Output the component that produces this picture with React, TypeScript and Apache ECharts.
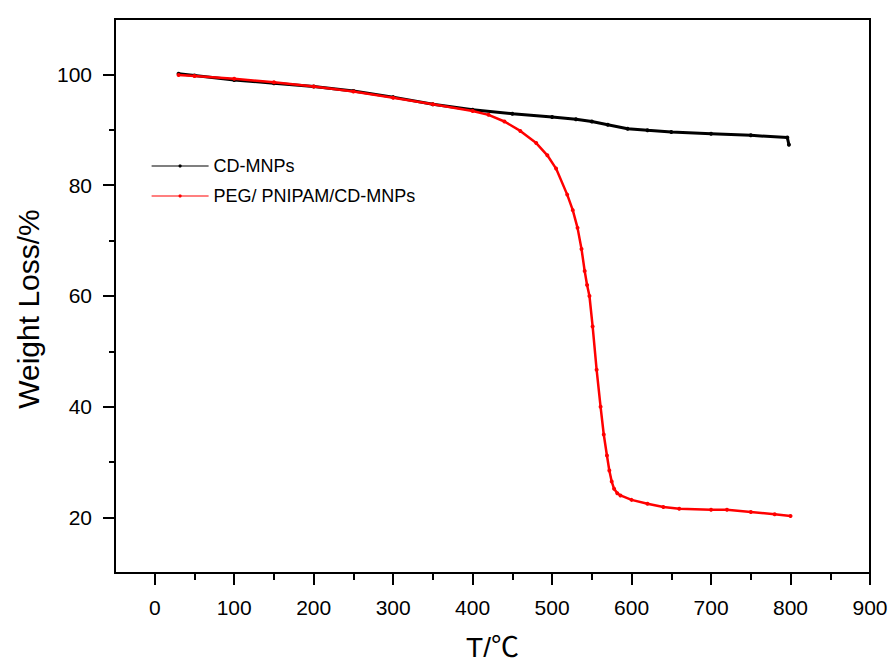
import React, { useEffect, useRef } from "react";
import * as echarts from "echarts";

// Temperature (°C) and residual weight (%) for each sample
const cdTemp = [30, 50, 100, 150, 200, 250, 300, 350, 400, 450, 500, 530, 550, 570, 595, 620, 650, 700, 750, 796, 798];
const cdWeight = [100.1, 99.8, 99.0, 98.4, 97.8, 97.0, 95.9, 94.6, 93.6, 92.9, 92.3, 91.9, 91.5, 90.9, 90.2, 89.9, 89.6, 89.3, 89.0, 88.6, 87.3];

const pegTemp = [30, 50, 100, 150, 200, 250, 300, 350, 400, 420, 440, 460, 480, 494, 505, 519, 526, 532, 537, 541, 544, 547, 551, 556, 561, 565, 569, 572, 575, 578, 582, 586, 600, 620, 640, 660, 700, 720, 750, 780, 800];
const pegWeight = [99.9, 99.7, 99.2, 98.6, 97.8, 96.9, 95.8, 94.6, 93.4, 92.7, 91.5, 89.8, 87.6, 85.4, 83.0, 78.3, 75.5, 72.3, 68.5, 64.5, 62.0, 60.0, 54.5, 46.7, 40.0, 35.0, 31.2, 28.5, 26.5, 25.2, 24.4, 24.0, 23.2, 22.5, 21.9, 21.6, 21.4, 21.4, 21.0, 20.6, 20.3];

const xMajor = [0, 100, 200, 300, 400, 500, 600, 700, 800, 900];
const xMinor = [50, 150, 250, 350, 450, 550, 650, 750, 850];
const yMajor = [20, 40, 60, 80, 100];
const yMinor = [30, 50, 70, 90];

const FONT = "'Liberation Sans', Arial, 'Noto Sans CJK SC', sans-serif";

const pairs = (xs: number[], ys: number[]) => xs.map((x, i) => [x, ys[i]]);

export default function App() {
  const ref = useRef<HTMLDivElement>(null);

  useEffect(() => {
    if (!ref.current) return;
    const chart = echarts.init(ref.current, undefined, { renderer: "svg" });
    const axisLine = { show: true, onZero: false, lineStyle: { color: "#000", width: 2 } };
    const hiddenLine = { show: false, onZero: false };
    const tickStyle = { color: "#000", width: 2 };
    chart.setOption({
      animation: false,
      backgroundColor: "#fff",
      grid: {
        left: 115,
        top: 19,
        right: 22,
        bottom: 88,
        show: true,
        borderColor: "#000",
        borderWidth: 2,
      },
      legend: {
        left: 146,
        top: 152,
        orient: "vertical",
        itemWidth: 57,
        itemHeight: 4,
        itemGap: 12,
        lineStyle: { width: 1.2 },
        textStyle: { fontFamily: FONT, fontSize: 18, color: "#000" },
        data: ["CD-MNPs", "PEG/ PNIPAM/CD-MNPs"],
      },
      xAxis: [
        {
          type: "value",
          min: -50,
          max: 900,
          position: "bottom",
          axisLine,
          axisTick: { show: true, customValues: xMajor, length: 12, lineStyle: tickStyle },
          axisLabel: { customValues: xMajor, fontFamily: FONT, fontSize: 21, color: "#000", margin: 24 },
          splitLine: { show: false },
          name: "T/℃",
          nameLocation: "middle",
          nameGap: 60,
          nameTextStyle: { fontFamily: FONT, fontSize: 28, color: "#000" },
        },
        {
          type: "value",
          min: -50,
          max: 900,
          position: "bottom",
          axisLine: hiddenLine,
          axisTick: { show: true, customValues: xMinor, length: 7, lineStyle: tickStyle },
          axisLabel: { show: false },
          splitLine: { show: false },
        },
      ],
      yAxis: [
        {
          type: "value",
          min: 10,
          max: 110,
          position: "left",
          axisLine,
          axisTick: { show: true, customValues: yMajor, length: 12, lineStyle: tickStyle },
          axisLabel: { customValues: yMajor, fontFamily: FONT, fontSize: 21, color: "#000", margin: 23 },
          splitLine: { show: false },
          name: "Weight Loss/%",
          nameLocation: "middle",
          nameGap: 72,
          nameTextStyle: { fontFamily: FONT, fontSize: 30, color: "#000", padding: [0, 26, 0, 0] },
        },
        {
          type: "value",
          min: 10,
          max: 110,
          position: "left",
          axisLine: hiddenLine,
          axisTick: { show: true, customValues: yMinor, length: 6, lineStyle: tickStyle },
          axisLabel: { show: false },
          splitLine: { show: false },
        },
      ],
      series: [
        {
          name: "CD-MNPs",
          type: "line",
          xAxisIndex: 0,
          yAxisIndex: 0,
          data: pairs(cdTemp, cdWeight),
          symbol: "circle",
          symbolSize: 4,
          showSymbol: true,
          itemStyle: { color: "#000" },
          lineStyle: { color: "#000", width: 3 },
          z: 2,
        },
        {
          name: "PEG/ PNIPAM/CD-MNPs",
          type: "line",
          xAxisIndex: 0,
          yAxisIndex: 0,
          data: pairs(pegTemp, pegWeight),
          symbol: "circle",
          symbolSize: 4,
          showSymbol: true,
          itemStyle: { color: "#ff0000" },
          lineStyle: { color: "#ff0000", width: 2.5 },
          z: 3,
        },
      ],
    });
    return () => chart.dispose();
  }, []);

  return <div ref={ref} style={{ width: 892, height: 666, position: "absolute", left: 0, top: 0 }} />;
}
